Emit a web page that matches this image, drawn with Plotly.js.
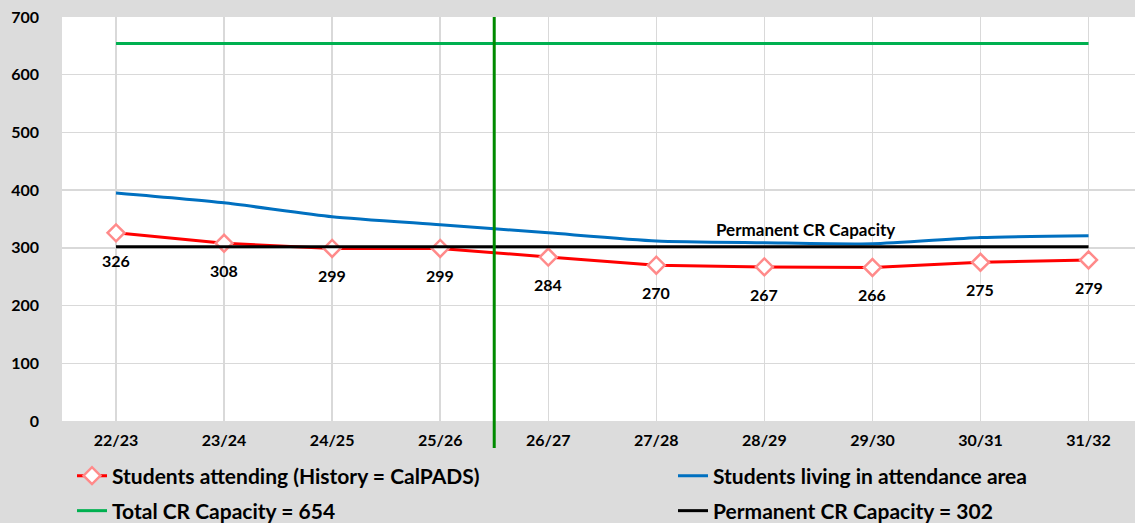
<!DOCTYPE html>
<html>
<head>
<meta charset="utf-8">
<script src="https://cdn.plot.ly/plotly-3.0.1.min.js"></script>
<style>
  html, body { margin: 0; padding: 0; background: #dcdcdc; }
  #chart { width: 1135px; height: 523px; }
</style>
</head>
<body>
<div id="chart"></div>
<script>
// ---- data ----
const years = ["22/23","23/24","24/25","25/26","26/27","27/28","28/29","29/30","30/31","31/32"];
const attending = [326, 308, 299, 299, 284, 270, 267, 266, 275, 279];
const livingInArea = [395, 378, 354, 340, 326, 312, 309, 307, 318, 321];
const totalCapacity = [654, 654, 654, 654, 654, 654, 654, 654, 654, 654];
const permanentCapacity = [302, 302, 302, 302, 302, 302, 302, 302, 302, 302];
const seriesNames = [
  "Students attending (History = CalPADS)",
  "Students living in attendance area",
  "Total CR Capacity = 654",
  "Permanent CR Capacity = 302"
];
const permanentLabel = "Permanent CR Capacity";
const permanentLabelAt = 6.38;   // category position of the line label
const forecastDivider = 3.5;     // between 25/26 and 26/27
const yTicks = [0, 100, 200, 300, 400, 500, 600, 700];

const FONT = "Lato, 'Open Sans', sans-serif";
const xIdx = years.map((_, i) => i);

const traces = [
  {
    x: xIdx, y: attending, name: seriesNames[0], type: "scatter", mode: "lines+markers",
    line: { color: "#ff0000", width: 3 },
    marker: { symbol: "diamond", size: 13, color: "#ffffff", line: { color: "#ff8a8a", width: 2.5 } },
    legend: "legend"
  },
  {
    x: xIdx, y: livingInArea, name: seriesNames[1], type: "scatter", mode: "lines",
    line: { color: "#0070c0", width: 3, shape: "spline", smoothing: 0.6 },
    legend: "legend2"
  },
  {
    x: xIdx, y: totalCapacity, name: seriesNames[2], type: "scatter", mode: "lines",
    line: { color: "#00b050", width: 3 },
    legend: "legend3"
  },
  {
    x: xIdx, y: permanentCapacity, name: seriesNames[3], type: "scatter", mode: "lines",
    line: { color: "#000000", width: 3 },
    legend: "legend4"
  }
];

const annotations = attending.map((v, i) => ({
  x: i, y: v, xref: "x", yref: "y", text: String(v), showarrow: false,
  yanchor: "top", yshift: -16,
  font: { family: FONT, size: 16, color: "#000", weight: "bold" }
}));
annotations.push({
  x: permanentLabelAt, y: permanentCapacity[6], xref: "x", yref: "y",
  text: permanentLabel, showarrow: false, yanchor: "bottom", yshift: 5,
  font: { family: FONT, size: 17, color: "#000", weight: "bold" }
});

function mkLegend(xPx, yPx) {
  return {
    orientation: "h", xref: "container", yref: "container",
    x: xPx / 1135, xanchor: "left", y: 1 - yPx / 523, yanchor: "middle",
    bgcolor: "rgba(0,0,0,0)",
    font: { family: FONT, size: 21, color: "#000", weight: "bold" },
    itemclick: false, itemdoubleclick: false
  };
}

const layout = {
  width: 1135, height: 523,
  margin: { l: 62, r: 0, t: 17, b: 102 },
  paper_bgcolor: "#dcdcdc",
  plot_bgcolor: "#ffffff",
  showlegend: true,
  xaxis: {
    range: [-0.5, 9.43],
    tickmode: "array", tickvals: xIdx, ticktext: years,
    showgrid: true, gridcolor: "#d9d9d9", gridwidth: 1.5,
    zeroline: false, showline: false, ticks: "",
    ticklabelstandoff: 8,
    tickfont: { family: FONT, size: 16, color: "#000", weight: "bold" },
    fixedrange: true
  },
  yaxis: {
    range: [0, 700],
    tickmode: "array", tickvals: yTicks,
    showgrid: true, gridcolor: "#d9d9d9", gridwidth: 1.5,
    zeroline: false, showline: false, ticks: "",
    ticklabelstandoff: 22,
    tickfont: { family: FONT, size: 16, color: "#000", weight: "bold" },
    fixedrange: true
  },
  legend: mkLegend(72, 476),
  legend2: mkLegend(673, 476),
  legend3: mkLegend(72, 511),
  legend4: mkLegend(673, 511),
  annotations: annotations,
  shapes: [{
    type: "line", xref: "x", yref: "paper",
    x0: forecastDivider, x1: forecastDivider, y0: -0.067, y1: 1,
    line: { color: "#008a00", width: 3 }
  }]
};

Plotly.newPlot("chart", traces, layout, { displayModeBar: false, staticPlot: true });
</script>
</body>
</html>
